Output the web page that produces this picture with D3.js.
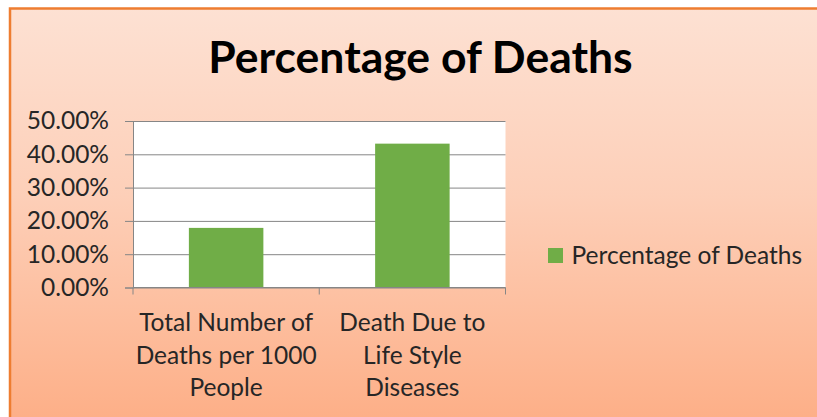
<!DOCTYPE html>
<html>
<head>
<meta charset="utf-8">
<script src="https://cdn.jsdelivr.net/npm/d3@7"></script>
<style>
  html, body { margin: 0; padding: 0; background: #ffffff; }
  svg { display: block; font-family: Lato, "Open Sans", sans-serif; }
</style>
</head>
<body>
<svg id="chart" width="817" height="417"></svg>
<script>
// chart data
const title = "Percentage of Deaths"
const seriesName = "Percentage of Deaths"
const categories = ["Total Number of Deaths per 1000 People", "Death Due to Life Style Diseases"]
const categoryLines = [["Total Number of", "Deaths per 1000", "People"], ["Death Due to", "Life Style", "Diseases"]]
const values = [0.179, 0.432]
const yTicks = [0, 0.1, 0.2, 0.3, 0.4, 0.5]

const svg = d3.select("#chart")
const [W, H] = [817, 417]
const fontSize = 24.5

// background gradient like the office peach fill
const defs = svg.append("defs")
const grad = defs.append("linearGradient").attr("id", "bg").attr("x1", 0).attr("y1", 0).attr("x2", 0).attr("y2", 1)
grad.append("stop").attr("offset", "0%").attr("stop-color", "#fde1d3")
grad.append("stop").attr("offset", "45%").attr("stop-color", "#fdcfb8")
grad.append("stop").attr("offset", "100%").attr("stop-color", "#fdae86")

svg.append("rect")
  .attr("x", 10).attr("y", 8.5)
  .attr("width", W).attr("height", H)
  .attr("fill", "url(#bg)")
  .attr("stroke", "#ee7d31")
  .attr("stroke-width", 2.5)

// title
svg.append("text")
  .attr("x", 420.5).attr("y", 73)
  .attr("text-anchor", "middle")
  .attr("font-weight", "bold")
  .attr("font-size", 44.5)
  .attr("fill", "#000")
  .text(title)

const plot = { left: 133, right: 505.5, top: 121, bottom: 287.5 }

const x = d3.scaleBand()
  .domain(categories)
  .range([plot.left, plot.right])
  .paddingInner(0.6)
  .paddingOuter(0.3)

const y = d3.scaleLinear()
  .domain([0, 0.5])
  .range([plot.bottom, plot.top])

// plot area
svg.append("rect")
  .attr("x", plot.left).attr("y", plot.top)
  .attr("width", plot.right - plot.left).attr("height", plot.bottom - plot.top)
  .attr("fill", "#ffffff")

// gridlines + y labels
const yAxis = svg.append("g")
  .attr("transform", "translate(" + plot.left + ",0)")
  .call(d3.axisLeft(y).tickValues(yTicks).tickFormat(d3.format(".2%")).tickSize(8).tickPadding(16))
yAxis.select(".domain").attr("stroke", "#868686")
yAxis.selectAll(".tick line").attr("stroke", "#868686")
yAxis.selectAll(".tick text").attr("font-size", fontSize).attr("fill", "#262626").attr("font-family", "Lato, sans-serif")
yAxis.selectAll(".tick")
  .append("line")
  .attr("x1", 0).attr("x2", plot.right - plot.left)
  .attr("stroke", "#868686")

// bars
svg.append("g").selectAll("rect")
  .data(values)
  .join("rect")
  .attr("x", (d, i) => x(categories[i]))
  .attr("y", d => y(d))
  .attr("width", x.bandwidth())
  .attr("height", d => y(0) - y(d))
  .attr("fill", "#70ad47")

// x axis with ticks on the category boundaries
const bounds = d3.range(categories.length + 1)
const xb = d3.scaleLinear().domain([0, categories.length]).range([plot.left, plot.right])
const xAxis = svg.append("g").attr("transform", "translate(0," + plot.bottom + ")")
xAxis.append("line").attr("x1", plot.left).attr("x2", plot.right).attr("stroke", "#868686")
xAxis.selectAll(".btick").data(bounds).join("line")
  .attr("class", "btick")
  .attr("x1", d => xb(d)).attr("x2", d => xb(d))
  .attr("y1", 0).attr("y2", 7)
  .attr("stroke", "#868686")

const labels = svg.append("g").selectAll("text")
  .data(categories)
  .join("text")
  .attr("text-anchor", "middle")
  .attr("font-size", fontSize)
  .attr("fill", "#262626")
  .attr("transform", d => "translate(" + (x(d) + x.bandwidth() / 2) + ",331)")
labels.each(function(d, i) {
  d3.select(this).selectAll("tspan")
    .data(categoryLines[i])
    .join("tspan")
    .attr("x", 0)
    .attr("dy", (l, j) => j === 0 ? 0 : 32.5)
    .text(l => l)
})

// legend
const legend = svg.append("g").attr("transform", "translate(548,248)")
legend.append("rect").attr("width", 15).attr("height", 15).attr("fill", "#70ad47")
legend.append("text")
  .attr("x", 23.5).attr("y", 15.5)
  .attr("font-size", fontSize)
  .attr("fill", "#262626")
  .text(seriesName)
</script>
</body>
</html>
